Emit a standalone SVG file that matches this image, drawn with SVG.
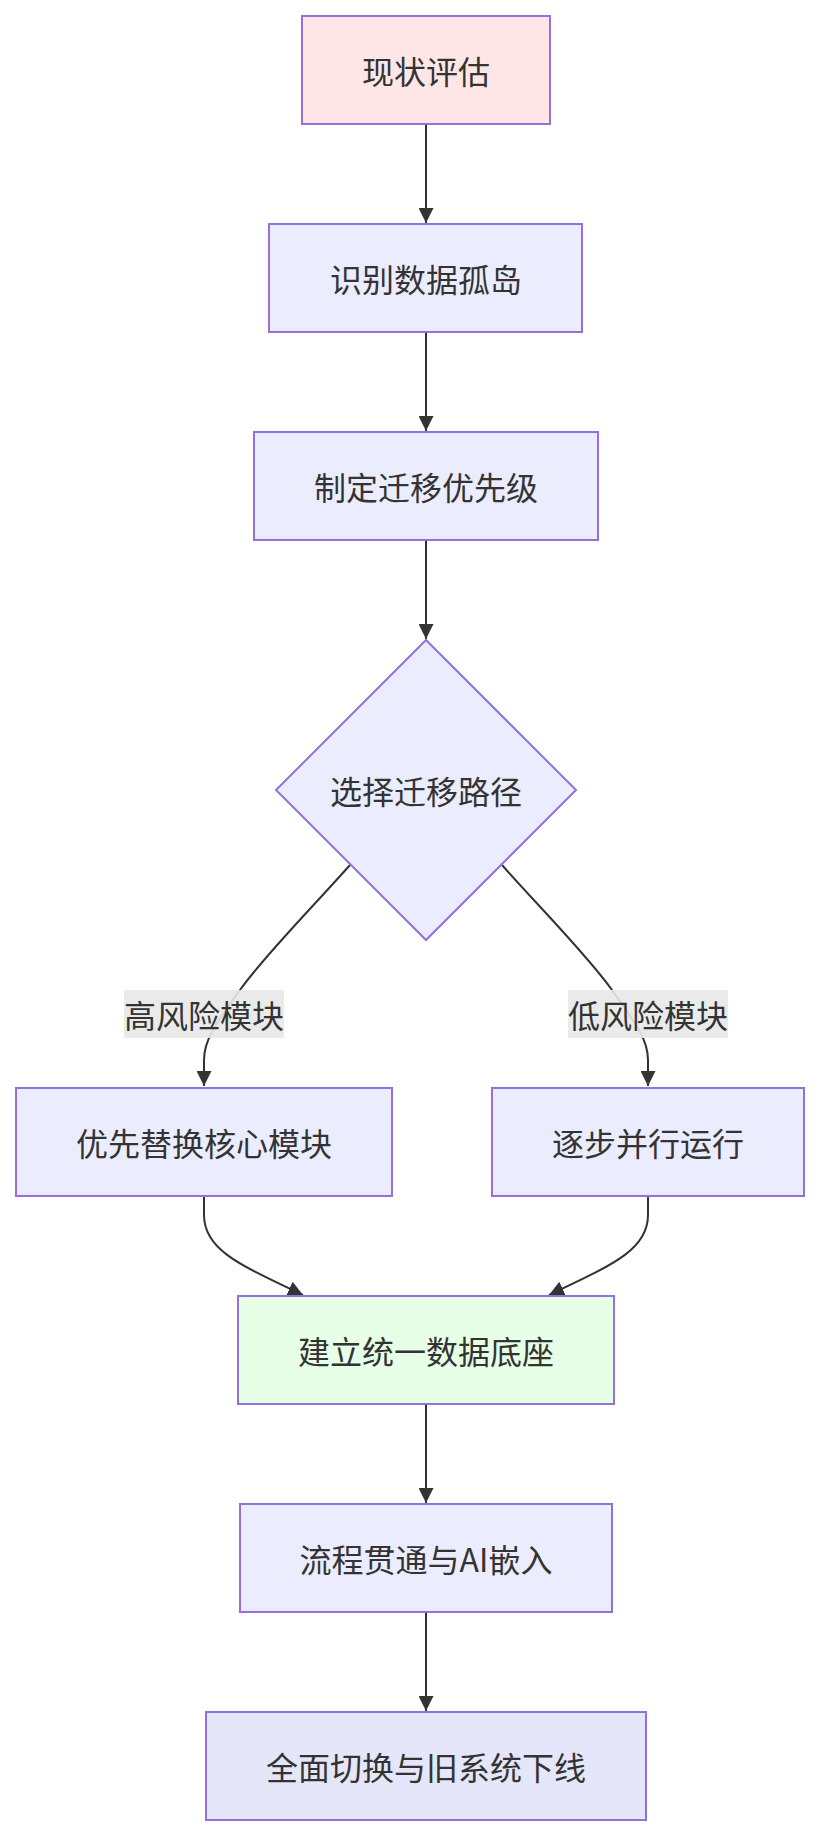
<svg xmlns="http://www.w3.org/2000/svg" width="820" height="1836" viewBox="0 0 820 1836">
<style>
.node rect, .node polygon { fill:#ECECFF; stroke:#9370DB; stroke-width:2; }
.t { font-family:"Noto Sans CJK SC","Noto Sans",sans-serif; font-size:32px; fill:#333333; text-anchor:middle; dominant-baseline:central; }
.edge { fill:none; stroke:#333333; stroke-width:2; }
.lbl { fill:#e8e8e8; fill-opacity:0.9; }
</style>
<defs>
<marker id="arr" viewBox="0 0 10 10" refX="10" refY="5" markerUnits="userSpaceOnUse" markerWidth="15" markerHeight="15" orient="auto">
<path d="M0,0 L10,5 L0,10 z" fill="#333333"/>
</marker>
</defs>
<rect width="820" height="1836" fill="#ffffff"/>
<g id="connectors">
<path class="edge" d="M426,125 L426,223" marker-end="url(#arr)"/>
<path class="edge" d="M426,333 L426,431" marker-end="url(#arr)"/>
<path class="edge" d="M426,541 L426,639" marker-end="url(#arr)"/>
<path class="edge" d="M350,865 C310,910 265,955 240,990 C215,1025 204,1040 204,1060 L204,1086" marker-end="url(#arr)"/>
<path class="edge" d="M502,865 C542,910 587,955 612,990 C637,1025 648,1040 648,1060 L648,1086" marker-end="url(#arr)"/>
<path class="edge" d="M204,1197 L204,1215 C204,1250 240,1265 303,1295" marker-end="url(#arr)"/>
<path class="edge" d="M648,1197 L648,1215 C648,1250 612,1265 549,1295" marker-end="url(#arr)"/>
<path class="edge" d="M426,1405 L426,1503" marker-end="url(#arr)"/>
<path class="edge" d="M426,1613 L426,1711" marker-end="url(#arr)"/>
<g id="edge-labels">
<rect class="lbl" x="124" y="990" width="160" height="48"/>
<text class="t" x="204" y="1014">高风险模块</text>
<rect class="lbl" x="568" y="990" width="160" height="48"/>
<text class="t" x="648" y="1014">低风险模块</text>
</g>
</g>
<g id="n1" class="node"><rect x="302" y="16" width="248" height="108" style="fill:#ffe6e6"/><text class="t" x="426" y="70">现状评估</text></g>
<g id="n2" class="node"><rect x="269" y="224" width="313" height="108"/><text class="t" x="426" y="278">识别数据孤岛</text></g>
<g id="n3" class="node"><rect x="254" y="432" width="344" height="108"/><text class="t" x="426" y="486">制定迁移优先级</text></g>
<g id="n4" class="node"><polygon points="426,640 576,790 426,940 276,790"/><text class="t" x="426" y="790">选择迁移路径</text></g>
<g id="n5" class="node"><rect x="16" y="1088" width="376" height="108"/><text class="t" x="204" y="1142">优先替换核心模块</text></g>
<g id="n6" class="node"><rect x="492" y="1088" width="312" height="108"/><text class="t" x="648" y="1142">逐步并行运行</text></g>
<g id="n7" class="node"><rect x="238" y="1296" width="376" height="108" style="fill:#e6ffe6"/><text class="t" x="426" y="1350">建立统一数据底座</text></g>
<g id="n8" class="node"><rect x="240" y="1504" width="372" height="108"/><text class="t" x="426" y="1558">流程贯通与AI嵌入</text></g>
<g id="n9" class="node"><rect x="206" y="1712" width="440" height="108" style="fill:#e6e6fa"/><text class="t" x="426" y="1766">全面切换与旧系统下线</text></g>
</svg>
